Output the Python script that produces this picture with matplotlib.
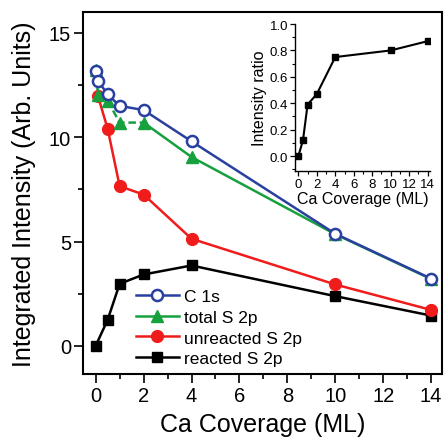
import matplotlib
matplotlib.use('Agg')
import matplotlib.pyplot as plt
from matplotlib.ticker import MultipleLocator

plt.rcParams['font.family'] = ['Liberation Sans', 'DejaVu Sans']

# Data
coverage = [0, 0.1, 0.5, 1, 2, 4, 10, 14]
c1s = [13.15, 12.7, 12.05, 11.5, 11.3, 9.8, 5.37, 3.22]
total_s = [13.2, 12.0, 11.75, 10.7, 10.7, 9.05, 5.35, 3.2]

cov_unreacted = [0.1, 0.5, 1, 2, 4, 10, 14]
unreacted_s = [11.95, 10.4, 7.65, 7.25, 5.13, 2.94, 1.72]

cov_reacted = [0, 0.5, 1, 2, 4, 10, 14]
reacted_s = [0.0, 1.25, 2.97, 3.42, 3.85, 2.38, 1.45]

ratio = [0.0, 0.12, 0.39, 0.47, 0.75, 0.80, 0.87]

blue = '#2a40a0'
green = '#17a03e'
red = '#f01c1c'

fig = plt.figure(figsize=(4.45, 4.39), dpi=100)
ax = fig.add_axes([0.1865, 0.1458, 0.806, 0.8246])

ax.plot(coverage, c1s, color=blue, marker='o', ms=8, mfc='white', mec=blue,
        mew=1.8, lw=1.8, label='C 1s', zorder=5)

# total S 2p: dashed between 0.5 and 2 ML
ax.plot(coverage[:3], total_s[:3], color=green, lw=1.8, zorder=3)
ax.plot(coverage[2:5], total_s[2:5], color=green, lw=1.8, ls=(0, (3, 1.5)), zorder=3)
ax.plot(coverage[4:], total_s[4:], color=green, lw=1.8, zorder=3)
ax.plot(coverage, total_s, color=green, marker='^', ms=9, ls='none', zorder=4)
ax.plot([], [], color=green, marker='^', ms=9, lw=1.8, label='total S 2p')

ax.plot(cov_unreacted, unreacted_s, color=red, marker='o', ms=8.5, lw=1.8,
        label='unreacted S 2p', zorder=3)
ax.plot(cov_reacted, reacted_s, color='black', marker='s', ms=7.5, lw=1.8,
        label='reacted S 2p', zorder=2)

# reorder legend handles
h, l = ax.get_legend_handles_labels()
order = ['C 1s', 'total S 2p', 'unreacted S 2p', 'reacted S 2p']
hh = [h[l.index(o)] for o in order]
leg = ax.legend(hh, order, loc='lower left', bbox_to_anchor=(0.147, 0.021),
                frameon=False, fontsize=12.5, handlelength=2.5,
                handletextpad=0.3, labelspacing=0.33, borderpad=0,
                borderaxespad=0)

ax.set_xlim(-0.53, 14.44)
ax.set_ylim(-1.35, 16.0)
ax.xaxis.set_major_locator(MultipleLocator(2))
ax.xaxis.set_minor_locator(MultipleLocator(1))
ax.yaxis.set_major_locator(MultipleLocator(5))
ax.yaxis.set_minor_locator(MultipleLocator(2.5))
ax.tick_params(which='major', direction='out', length=6.5, width=1.2,
               labelsize=14.5, pad=2)
ax.tick_params(which='minor', direction='out', length=3.5, width=1.2)
for s in ax.spines.values():
    s.set_linewidth(1.5)

ax.set_xlabel('Ca Coverage (ML)', fontsize=18, labelpad=5.5)
ax.set_ylabel('Integrated Intensity (Arb. Units)', fontsize=18, labelpad=9.5)

# inset
ins = fig.add_axes([0.663, 0.609, 0.303, 0.334])
ins.plot(cov_reacted, ratio, color='black', marker='s', ms=4.5, lw=1.5)
ins.set_xlim(-0.36, 14.25)
ins.set_ylim(-0.11, 1.0)
ins.xaxis.set_major_locator(MultipleLocator(2))
ins.xaxis.set_minor_locator(MultipleLocator(1))
ins.yaxis.set_major_locator(MultipleLocator(0.2))
ins.yaxis.set_minor_locator(MultipleLocator(0.1))
ins.spines['top'].set_visible(False)
ins.spines['right'].set_visible(False)
ins.patch.set_alpha(0)
for s in ['left', 'bottom']:
    ins.spines[s].set_linewidth(1.0)
ins.tick_params(which='major', direction='out', length=3.5, width=0.9,
                labelsize=9.5, pad=1.5)
ins.tick_params(which='minor', direction='out', length=2, width=0.8)
ins.set_xlabel('Ca Coverage (ML)', fontsize=11.5, labelpad=1)
ins.set_ylabel('Intensity ratio', fontsize=11.5, labelpad=2)

fig.savefig('out.png', dpi=100)
